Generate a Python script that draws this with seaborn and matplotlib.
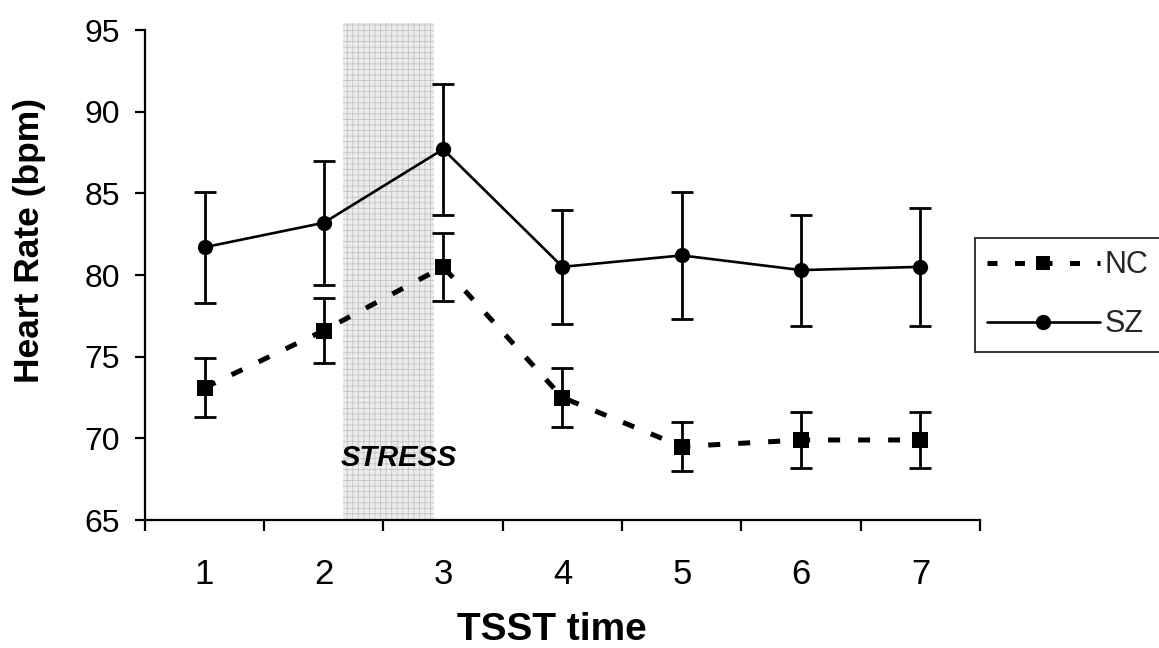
import matplotlib
matplotlib.use("Agg")
import matplotlib.pyplot as plt
import seaborn as sns
import pandas as pd
import numpy as np
from matplotlib.ticker import FixedLocator
from matplotlib.lines import Line2D

# ---- data ----
time_points = [1, 2, 3, 4, 5, 6, 7]
sz_mean = [81.7, 83.2, 87.7, 80.5, 81.2, 80.3, 80.5]
sz_err = [3.4, 3.8, 4.0, 3.5, 3.9, 3.4, 3.6]
nc_mean = [73.1, 76.6, 80.5, 72.5, 69.5, 69.9, 69.9]
nc_err = [1.8, 2.0, 2.1, 1.8, 1.5, 1.7, 1.7]
groups = ["NC", "SZ"]
y_ticks = [65, 70, 75, 80, 85, 90, 95]
stress_span = (2.16, 2.92)

df = pd.DataFrame({
    "time": time_points * 2,
    "hr": nc_mean + sz_mean,
    "err": nc_err + sz_err,
    "group": [groups[0]] * 7 + [groups[1]] * 7,
})

sns.set_theme(style="white")
plt.rcParams["font.family"] = ["Liberation Sans", "DejaVu Sans"]
plt.rcParams["hatch.linewidth"] = 0.6
plt.rcParams["hatch.color"] = "#bdbdbd"

fig = plt.figure(figsize=(11.59, 6.48), dpi=100)
ax = fig.add_axes([0.125, 0.1975, 0.7206, 0.7562])

# stress band
ax.axvspan(stress_span[0], stress_span[1], ymin=0, ymax=1.015,
           facecolor="#ececec", edgecolor="#c4c4c4", hatch="+++",
           linewidth=0, zorder=0, clip_on=False)

# error bars
for g in groups:
    sub = df[df["group"] == g]
    ax.errorbar(sub["time"], sub["hr"], yerr=sub["err"], fmt="none",
                ecolor="black", elinewidth=2.0, capsize=8, capthick=2.0,
                zorder=2)

# lines and markers
sns.lineplot(data=df, x="time", y="hr", hue="group", style="group",
             palette={"NC": "black", "SZ": "black"},
             dashes={"NC": (2.4, 3.6), "SZ": ""},
             markers={"NC": "s", "SZ": "o"},
             markersize=11, markeredgewidth=0, ax=ax, legend=False,
             zorder=3)
for l in ax.get_lines():
    if l.get_linestyle() == "-":
        l.set_linewidth(1.9)
    else:
        l.set_linewidth(3.6)

ax.set_xlim(0.5, 7.5)
ax.set_ylim(65, 95)
ax.set_yticks(y_ticks)
ax.set_yticklabels([str(v) for v in y_ticks])
ax.set_xticks(time_points)
ax.set_xticklabels([str(v) for v in time_points])
ax.xaxis.set_minor_locator(FixedLocator(np.arange(0.5, 8.0, 1.0)))

for side in ["top", "right"]:
    ax.spines[side].set_visible(False)
for side in ["left", "bottom"]:
    ax.spines[side].set_color("black")
    ax.spines[side].set_linewidth(1.6)

ax.tick_params(axis="x", which="major", length=0, pad=27, labelsize=25,
               colors="black")
ax.tick_params(axis="x", which="minor", bottom=True, length=8, width=1.6,
               direction="out", color="black")
ax.tick_params(axis="y", which="major", left=True, length=7, width=1.6,
               direction="out", pad=11, labelsize=23, colors="black")

ax.set_xlabel("TSST time", fontsize=28, fontweight="bold", color="black")
ax.set_ylabel("Heart Rate (bpm)", fontsize=25.5, fontweight="bold",
              color="black")
ax.xaxis.set_label_coords(0.487, -0.188)
ax.yaxis.set_label_coords(-0.118, 0.571)

ax.text(2.63, 68.8, "STRESS", fontsize=21, fontweight="bold",
        fontstyle="italic", ha="center", va="center", color="black",
        zorder=4)

# legend
handles = [
    Line2D([0], [0], color="black", lw=3.6, dashes=(2.0, 3.5), marker="s",
           markersize=10, markeredgewidth=0),
    Line2D([0], [0], color="black", lw=1.9, marker="o", markersize=11,
           markeredgewidth=0),
]
leg = fig.legend(handles, groups, loc="center left",
                 bbox_to_anchor=(0.841, 0.545), frameon=True, fancybox=False,
                 shadow=False, fontsize=22, handlelength=3.7,
                 handletextpad=0.15, borderpad=0.4, labelspacing=0.95,
                 borderaxespad=0.0)
leg.get_frame().set_edgecolor("black")
leg.get_frame().set_linewidth(1.4)

fig.savefig("out.png", dpi=100, facecolor="white")
